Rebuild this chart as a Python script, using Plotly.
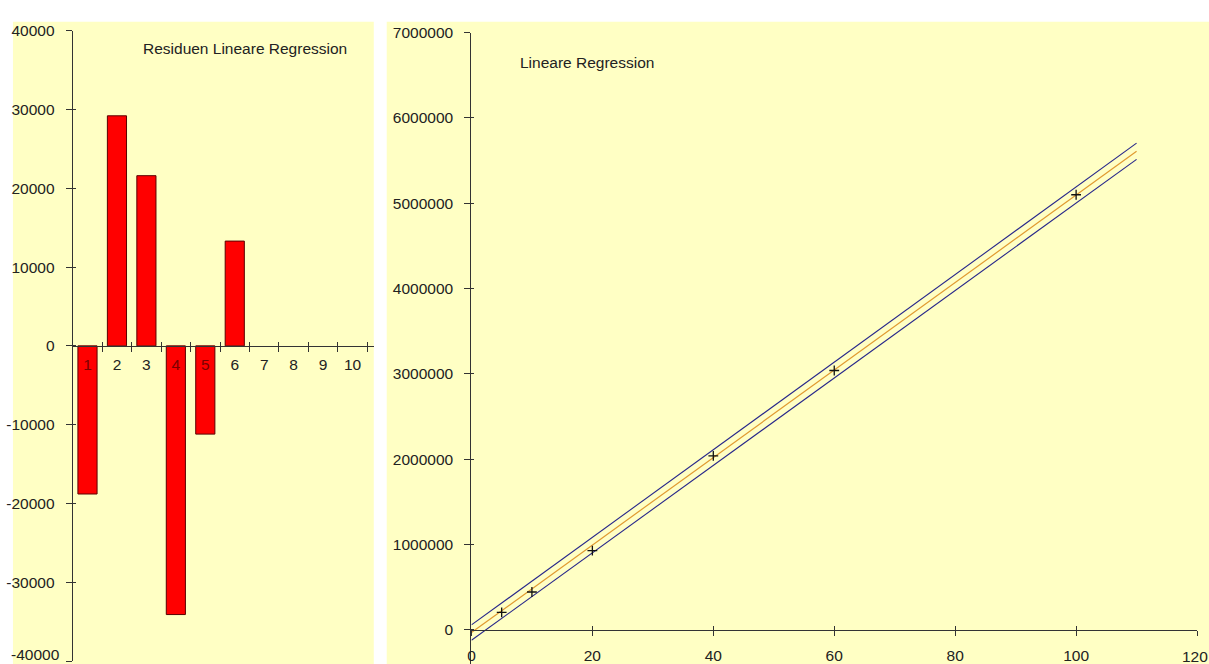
import plotly.graph_objects as go

W, H = 1209, 664

# ---- data ----
categories = ["1", "2", "3", "4", "5", "6", "7", "8", "9", "10"]
residuals = [-18800, 29200, 21600, -34100, -11200, 13300, None, None, None, None]

obs_x = [5, 10, 20, 40, 60, 100]
obs_y = [205000, 444000, 930000, 2040000, 3040000, 5100000]

line_x = [0, 110]
fit_y = [-32000, 5610000]
upper_y = [58000, 5705000]
lower_y = [-122000, 5515000]

left_yticks = [-40000, -30000, -20000, -10000, 0, 10000, 20000, 30000, 40000]
right_xticks = [0, 20, 40, 60, 80, 100, 120]
right_yticks = [0, 1000000, 2000000, 3000000, 4000000, 5000000, 6000000, 7000000]

BG = "#FFFFC4"
TXT = "#222222"
FONT = "Liberation Sans, Arial, sans-serif"
FS = 15.5


def px(x):
    return x / W


def py(y):
    return 1 - y / H


# category labels: dark red where they sit over a downward bar
cat_text = [
    f'<span style="color:#7A0000">{c}</span>' if (r is not None and r < 0) else c
    for c, r in zip(categories, residuals)
]

# edge labels (cut by the page edge in the original) are drawn as annotations
left_ytext = [str(v) for v in left_yticks]
left_ytext[0] = ""
right_xtext = [str(v) for v in right_xticks]
right_xtext[-1] = ""

fig = go.Figure()

# left: residual bars
fig.add_trace(go.Bar(
    x=categories, y=residuals, xaxis="x", yaxis="y",
    marker=dict(color="#FF0000", line=dict(color="#5A0000", width=1)),
    width=0.65, showlegend=False, hoverinfo="x+y",
))
fig.add_trace(go.Scatter(x=[], y=[], xaxis="x3", yaxis="y3", showlegend=False))

# right: regression
fig.add_trace(go.Scatter(x=line_x, y=upper_y, mode="lines", xaxis="x2", yaxis="y2",
                         line=dict(color="#26268A", width=1.1), showlegend=False))
fig.add_trace(go.Scatter(x=line_x, y=lower_y, mode="lines", xaxis="x2", yaxis="y2",
                         line=dict(color="#26268A", width=1.1), showlegend=False))
fig.add_trace(go.Scatter(x=line_x, y=fit_y, mode="lines", xaxis="x2", yaxis="y2",
                         line=dict(color="#E09A30", width=1.2), showlegend=False))
fig.add_trace(go.Scatter(x=obs_x, y=obs_y, mode="markers", xaxis="x2", yaxis="y2",
                         marker=dict(symbol="cross-thin", size=7,
                                     line=dict(color="#111111", width=1.3)),
                         showlegend=False))
fig.add_trace(go.Scatter(x=[], y=[], xaxis="x4", yaxis="y4", showlegend=False))

axis_common = dict(showgrid=False, zeroline=False, linecolor="#333333", linewidth=1.3,
                   tickcolor="#333333", tickwidth=1.3,
                   tickfont=dict(family=FONT, size=FS, color=TXT))

left_x_dom = [px(69), px(371)]
left_zero_pos = py(341.5)
right_x_dom = [px(469), px(1197)]
right_zero_pos = py(629.4)

fig.update_layout(
    width=W, height=H,
    margin=dict(l=0, r=0, t=0, b=0),
    paper_bgcolor="white",
    plot_bgcolor="rgba(0,0,0,0)",
    xaxis=dict(axis_common, domain=left_x_dom, type="category",
               categoryorder="array", categoryarray=categories,
               tickmode="array", tickvals=categories, ticktext=cat_text,
               range=[-0.5, 9.72], anchor="free", position=left_zero_pos,
               showline=True, ticks="outside", ticklen=5, tickson="boundaries",
               ticklabelstandoff=4),
    yaxis=dict(axis_common, domain=[py(661), py(22)], range=[-40000, 40000],
               anchor="x", showline=True, ticks="outside", ticklen=6,
               tickmode="array", tickvals=left_yticks, ticktext=left_ytext,
               ticklabelstandoff=8),
    xaxis3=dict(axis_common, overlaying="x", type="linear", range=[0.5, 10.72],
                anchor="free", position=left_zero_pos, showline=False,
                ticks="inside", ticklen=4, tickmode="array",
                tickvals=[i + 0.5 for i in range(1, 11)], showticklabels=False),
    yaxis3=dict(axis_common, overlaying="y", range=[-40000, 40000], anchor="x3",
                showline=False, ticks="inside", ticklen=3, tickmode="array",
                tickvals=left_yticks, showticklabels=False),
    xaxis2=dict(axis_common, domain=right_x_dom, range=[0, 120], anchor="free",
                position=right_zero_pos, showline=True, ticks="outside", ticklen=5,
                tickmode="array", tickvals=right_xticks, ticktext=right_xtext,
                ticklabelstandoff=6),
    yaxis2=dict(axis_common, domain=[0, py(24)], range=[-400000, 7000000],
                anchor="x2", showline=True, ticks="outside", ticklen=6,
                tickmode="array", tickvals=right_yticks,
                ticktext=[str(v) for v in right_yticks],
                ticklabelstandoff=8),
    xaxis4=dict(axis_common, overlaying="x2", range=[0, 120], anchor="free",
                position=right_zero_pos, showline=False, ticks="inside", ticklen=4,
                tickmode="array", tickvals=right_xticks, showticklabels=False),
    yaxis4=dict(axis_common, overlaying="y2", range=[-400000, 7000000], anchor="x4",
                showline=False, ticks="inside", ticklen=3, tickmode="array",
                tickvals=right_yticks, showticklabels=False),
    shapes=[
        dict(type="rect", xref="paper", yref="paper", x0=px(9), x1=px(371),
             y0=0, y1=py(13), fillcolor=BG, line=dict(width=0), layer="below"),
        dict(type="rect", xref="paper", yref="paper", x0=px(384), x1=1,
             y0=0, y1=py(13), fillcolor=BG, line=dict(width=0), layer="below"),
    ],
    annotations=[
        dict(text="Residuen Lineare Regression", xref="paper", yref="paper",
             x=px(137), y=py(40), xanchor="left", yanchor="middle", showarrow=False,
             font=dict(family=FONT, size=FS, color=TXT)),
        dict(text="Lineare Regression", xref="paper", yref="paper",
             x=px(516), y=py(54), xanchor="left", yanchor="middle", showarrow=False,
             font=dict(family=FONT, size=FS, color=TXT)),
        dict(text=str(right_xticks[-1]), xref="paper", yref="paper",
             x=1, y=right_zero_pos, xanchor="right", yanchor="top", yshift=-17,
             showarrow=False, borderpad=0,
             font=dict(family=FONT, size=FS, color=TXT)),
        dict(text=str(left_yticks[0]), xref="paper", yref="paper",
             x=px(69), y=0, xanchor="right", yanchor="bottom", xshift=-12,
             yshift=0, showarrow=False, borderpad=0,
             font=dict(family=FONT, size=FS, color=TXT)),
    ],
)

fig.write_html("out.html")
